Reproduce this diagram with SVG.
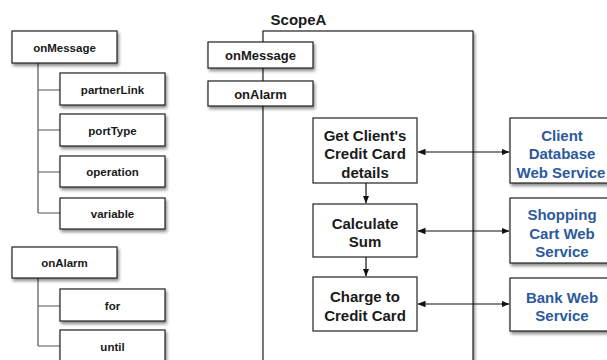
<svg xmlns="http://www.w3.org/2000/svg" width="607" height="360" viewBox="0 0 607 360">
  <defs>
    <filter id="shadow" x="-20%" y="-20%" width="150%" height="160%">
      <feDropShadow dx="1.5" dy="2.5" stdDeviation="1.6" flood-color="#000" flood-opacity="0.45"/>
    </filter>
    <marker id="arrow" viewBox="0 0 8 8" refX="7.5" refY="4" markerWidth="8" markerHeight="8" markerUnits="userSpaceOnUse" orient="auto-start-reverse">
      <path d="M0,0.8 L8,4 L0,7.2 Z" fill="#111"/>
    </marker>
    <style>
      .box { fill: #fff; stroke: #222; stroke-width: 1.2; }
      .sh { filter: url(#shadow); }
      .t { font-family: "Liberation Sans", Arial, sans-serif; font-weight: bold; fill: #1a1a1a; text-anchor: middle; dominant-baseline: central; }
      .s { font-size: 11.5px; }
      .m { font-size: 13px; }
      .l { font-size: 15px; }
      .blue { fill: #2c5a9c; }
      .tree { stroke: #555; stroke-width: 1.2; fill: none; }
      .conn { stroke: #111; stroke-width: 1.2; fill: none; }
    </style>
  </defs>
  <rect width="607" height="360" fill="#fff"/>

  <!-- onMessage property tree -->
  <g id="tree-lines">
    <path class="tree" d="M38,63 V213 M38,90 H60 M38,130 H60 M38,172 H60 M38,213 H60"/>
    <path class="tree" d="M38,278 V346 M38,306 H60 M38,346 H60"/>
  </g>
  <g id="tree-onMessage">
    <rect class="box sh" x="12" y="31" width="105" height="32"/>
    <text class="t s" x="64.5" y="47.5">onMessage</text>
  </g>
  <g id="tree-partnerLink">
    <rect class="box sh" x="60" y="73" width="105" height="32"/>
    <text class="t s" x="112.5" y="89.5">partnerLink</text>
  </g>
  <g id="tree-portType">
    <rect class="box sh" x="60" y="114" width="105" height="32"/>
    <text class="t s" x="112.5" y="130.5">portType</text>
  </g>
  <g id="tree-operation">
    <rect class="box sh" x="60" y="156" width="105" height="31"/>
    <text class="t s" x="112.5" y="172">operation</text>
  </g>
  <g id="tree-variable">
    <rect class="box sh" x="60" y="198" width="105" height="31"/>
    <text class="t s" x="112.5" y="214">variable</text>
  </g>

  <!-- onAlarm property tree -->
  <g id="tree-onAlarm">
    <rect class="box sh" x="12" y="247" width="105" height="31"/>
    <text class="t s" x="64.5" y="263">onAlarm</text>
  </g>
  <g id="tree-for">
    <rect class="box sh" x="60" y="289" width="105" height="32"/>
    <text class="t s" x="112.5" y="305.5">for</text>
  </g>
  <g id="tree-until">
    <rect class="box sh" x="60" y="330" width="105" height="34"/>
    <text class="t s" x="112.5" y="347">until</text>
  </g>

  <!-- Scope container -->
  <g id="scopeA">
    <rect class="box sh" x="263" y="31" width="210" height="340"/>
    <text class="t l" x="298.5" y="19">ScopeA</text>
  </g>
  <g id="scope-onMessage">
    <rect class="box sh" x="208" y="42" width="105" height="26"/>
    <text class="t m" x="260.5" y="55.5">onMessage</text>
  </g>
  <g id="scope-onAlarm">
    <rect class="box sh" x="208" y="81" width="105" height="25"/>
    <text class="t m" x="260.5" y="94">onAlarm</text>
  </g>

  <!-- Activities inside the scope -->
  <g id="get-card">
    <rect class="box" x="313" y="118" width="104" height="65"/>
    <text class="t l" x="365" y="135">Get Client's</text>
    <text class="t l" x="365" y="153.5">Credit Card</text>
    <text class="t l" x="365" y="172">details</text>
  </g>
  <g id="calculate-sum">
    <rect class="box" x="313" y="204" width="104" height="53"/>
    <text class="t l" x="365" y="223">Calculate</text>
    <text class="t l" x="365" y="241.5">Sum</text>
  </g>
  <g id="charge-card">
    <rect class="box" x="313" y="277" width="104" height="54"/>
    <text class="t l" x="365" y="296.5">Charge to</text>
    <text class="t l" x="365" y="315">Credit Card</text>
  </g>

  <!-- External web services -->
  <g id="client-db-service">
    <rect class="box sh" x="510" y="118" width="104" height="65"/>
    <text class="t l blue" x="562" y="135">Client</text>
    <text class="t l blue" x="562" y="153.5">Database</text>
    <text class="t l blue" x="561" y="172">Web Service</text>
  </g>
  <g id="cart-service">
    <rect class="box sh" x="510" y="198" width="104" height="65"/>
    <text class="t l blue" x="562" y="214.5">Shopping</text>
    <text class="t l blue" x="562" y="233">Cart Web</text>
    <text class="t l blue" x="562" y="251.5">Service</text>
  </g>
  <g id="bank-service">
    <rect class="box sh" x="510" y="278" width="104" height="53"/>
    <text class="t l blue" x="562" y="297">Bank Web</text>
    <text class="t l blue" x="562" y="315.5">Service</text>
  </g>

  <!-- Connectors -->
  <g id="connectors">
    <path class="conn" d="M418,152 H509" marker-start="url(#arrow)" marker-end="url(#arrow)"/>
    <path class="conn" d="M418,231 H509" marker-start="url(#arrow)" marker-end="url(#arrow)"/>
    <path class="conn" d="M418,304 H509" marker-start="url(#arrow)" marker-end="url(#arrow)"/>
    <path class="conn" d="M366,183 V203" marker-end="url(#arrow)"/>
    <path class="conn" d="M366,257 V276" marker-end="url(#arrow)"/>
  </g>
</svg>
